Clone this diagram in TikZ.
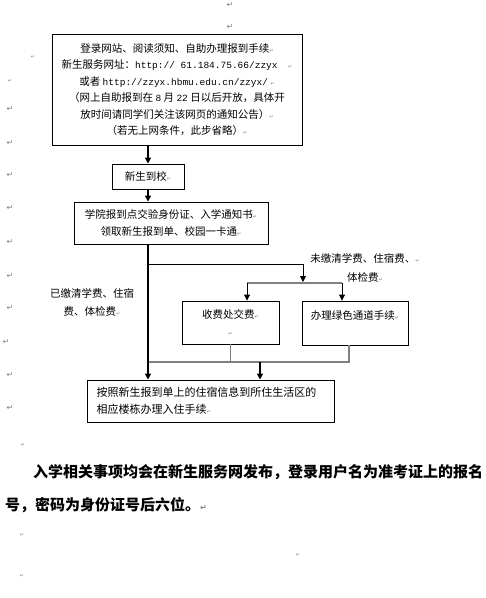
\documentclass[tikz,border=0pt]{standalone}
\usepackage{fontspec}
\usepackage{xcolor}
\usepackage{tikz}
\usetikzlibrary{arrows.meta,positioning}

\newfontfamily\cjk{Noto Sans CJK SC}
\newfontfamily\webfont{Liberation Mono}
\newfontfamily\symfont{DejaVu Sans}
% little paragraph mark behind a line
\newcommand{\pmk}{{\symfont\color{gray}\fontsize{5}{5}\selectfont ↵}}
\newcommand{\web}[1]{{\webfont\fontsize{9.5}{16.5}\selectfont #1}}

\begin{document}
\begin{tikzpicture}[x=1pt, y=-1pt,
    flowbox/.style={draw, line width=0.9pt, inner sep=0pt, align=center, font=\cjk\fontsize{10.5}{16.5}\selectfont},
    sidelabel/.style={inner sep=0pt, align=center, font=\cjk\fontsize{10.5}{19}\selectfont},
    notetext/.style={inner sep=0pt, anchor=west, font=\cjk\bfseries\fontsize{15}{15}\selectfont},
    pmark/.style={inner sep=0pt, text=gray, font=\symfont\fontsize{8}{8}\selectfont},
    mainline/.style={line width=2.2pt, -{Triangle[length=6pt, width=6pt]}},
    branch/.style={line width=0.9pt, -{Triangle[length=6pt, width=6pt]}},
    joinline/.style={gray, line width=1.8pt}
]
\useasboundingbox (0,0) rectangle (486,598);

\node[flowbox, minimum width=250pt, minimum height=111pt] (reg) at (177,89.5)
  {登录网站、阅读须知、自助办理报到手续\pmk\\
   新生服务网址：\web{http:// 61.184.75.66/zzyx}\quad\pmk\\
   或者 \web{http://zzyx.hbmu.edu.cn/zzyx/} \pmk\\
   （网上自助报到在 \web{8} 月 \web{22} 日以后开放，具体开\\
   放时间请同学们关注该网页的通知公告）\pmk\\
   （若无上网条件，此步省略）\pmk};
\node[flowbox, minimum width=72pt, minimum height=25pt] (arrive) at (148,176.5) {新生到校\pmk};
\node[flowbox, minimum width=194pt, minimum height=42pt] (check) at (171,223)
  {学院报到点交验身份证、入学通知书\pmk\\领取新生报到单、校园一卡通\pmk};
\node[flowbox, minimum width=97pt, minimum height=43pt] (pay) at (230.5,322.5) {收费处交费\pmk\\\pmk};
\node[flowbox, minimum width=106pt, minimum height=44pt] (green) at (355,323) {办理绿色通道手续\pmk\\~};
\node[flowbox, align=left, text width=228pt, minimum width=247pt, minimum height=42pt,
  font=\cjk\fontsize{11}{17}\selectfont] (dorm) at (210.5,401)
  {按照新生报到单上的住宿信息到所住生活区的\\相应楼栋办理入住手续\pmk};

\node[sidelabel] (unpaid) at (365,268) {未缴清学费、住宿费、\pmk\\体检费\pmk};
\node[sidelabel, font=\cjk\fontsize{10.5}{18}\selectfont] (paid) at (92,302) {已缴清学费、住宿\\费、体检费\pmk};

% junction points
\coordinate (split) at (148,264);
\coordinate (fork) at (303,282);
\coordinate (barL) at (247,283);
\coordinate (barR) at (342,283);
\coordinate (joinL) at (148,362);
\coordinate (joinM) at (260,362);
\coordinate (joinR) at (349,362);

\draw[joinline] (barL) -- (barR);
\draw[joinline] (pay.south) -- (pay.south |- joinL);
\draw[joinline] (joinR |- green.south) -- (joinR) -- (joinL);

\draw[mainline] (arrive.north |- reg.south) -- (arrive.north);
\draw[mainline] (arrive.south) -- (arrive.south |- check.north);
\draw[mainline] (arrive.south |- check.south) -- (arrive.south |- dorm.north);
\draw[branch] (split) -| (fork);
\draw[branch] (barL) -- (barL |- pay.north);
\draw[branch] (barR) -- (barR |- green.north);
\draw[mainline] (joinM) -- (joinM |- dorm.north);

\node[notetext] (note1) at (33,472) {入学相关事项均会在新生服务网发布，登录用户名为准考证上的报名};
\node[notetext] (note2) at (5,505) {号，密码为身份证号后六位。{\symfont\color{gray}\fontsize{8}{8}\selectfont ↵}};

% paragraph marks in the margins
\node[pmark] (top1) at (230,5) {↵};
\node[pmark] (top2) at (230,27) {↵};
\foreach \y in {109,143,175,208,242,276,308,375,408}
  \node[pmark] (m\y) at (10,\y) {↵};
\node[pmark] (m342) at (6,342) {↵};
\node[inner sep=0pt] (d1) at (33,57) {\pmk};
\node[inner sep=0pt] (d2) at (10,81) {\pmk};
\node[inner sep=0pt] (d3) at (23,445) {\pmk};
\node[inner sep=0pt] (d4) at (22,535) {\pmk};
\node[inner sep=0pt] (d5) at (298,555) {\pmk};
\node[inner sep=0pt] (d6) at (22,576) {\pmk};

\end{tikzpicture}
\end{document}
